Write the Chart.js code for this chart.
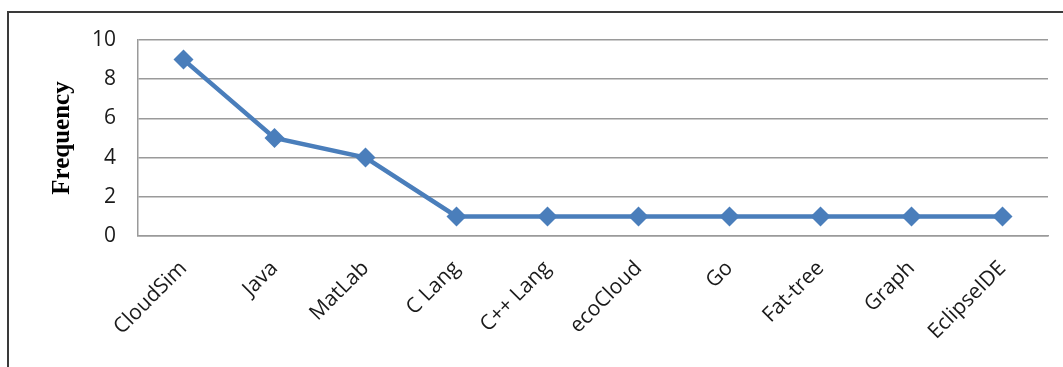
<!DOCTYPE html>
<html>
<head>
<meta charset="utf-8">
<script src="https://cdn.jsdelivr.net/npm/chart.js@4/dist/chart.umd.min.js"></script>
<style>
  html,body{margin:0;padding:0;background:#fff;overflow:hidden;}
  #wrap{position:relative;width:1063px;height:367px;}
  #frame{position:absolute;left:7px;top:11px;width:1100px;height:400px;border:2px solid #3a3a3a;box-sizing:border-box;}
  canvas{position:absolute;left:0;top:0;}
</style>
</head>
<body>
<div id="wrap">
  <div id="frame"></div>
  <canvas id="chartGrafik" width="1063" height="367"></canvas>
</div>
<script>
// ================= DATA =================
const kategori = ["CloudSim","Java","MatLab","C Lang","C++ Lang","ecoCloud","Go","Fat-tree","Graph","EclipseIDE"];
const frekuensi = [9,5,4,1,1,1,1,1,1,1];
const yTicks = [0,2,4,6,8,10];

const warna = "#4a7ebb";
const grid  = "#9a9a9a";

const ctx = document.getElementById("chartGrafik").getContext("2d");

new Chart(ctx,{
  type:"line",
  data:{
    labels:kategori,
    datasets:[{
      label:"Frequency",
      data:frekuensi,
      borderColor:warna,
      backgroundColor:warna,
      borderWidth:4.5,
      pointStyle:"rectRot",
      pointRadius:10,
      pointHoverRadius:10,
      pointBorderWidth:0,
      tension:0,
      fill:false
    }]
  },
  options:{
    responsive:false,
    animation:false,
    layout:{ padding:{ top:40, right:15, left:48, bottom:0 } },
    plugins:{
      legend:{ display:false },
      tooltip:{ enabled:false }
    },
    scales:{
      x:{
        offset:true,
        grid:{ display:false },
        border:{ display:true, color:grid, width:1.5 },
        ticks:{
          color:"#1a1a1a",
          font:{ family:"'Open Sans'", size:21 },
          minRotation:45,
          maxRotation:45,
          padding:12
        },
        afterFit(s){ s.height = 131; }
      },
      y:{
        min:0,
        max:10,
        afterBuildTicks(s){ s.ticks = yTicks.map(v=>({value:v})); },
        grid:{ color:grid, lineWidth:1.5, drawTicks:false },
        border:{ display:true, color:grid, width:1.5 },
        ticks:{
          color:"#1a1a1a",
          font:{ family:"'Open Sans'", size:21 },
          padding:22
        },
        title:{
          display:true,
          text:"Frequency",
          color:"#000",
          font:{ family:"'Liberation Serif'", size:25, weight:"bold" },
          padding:{ top:0, bottom:4 }
        },
        afterFit(s){ s.width = 90; }
      }
    }
  }
});
</script>
</body>
</html>
